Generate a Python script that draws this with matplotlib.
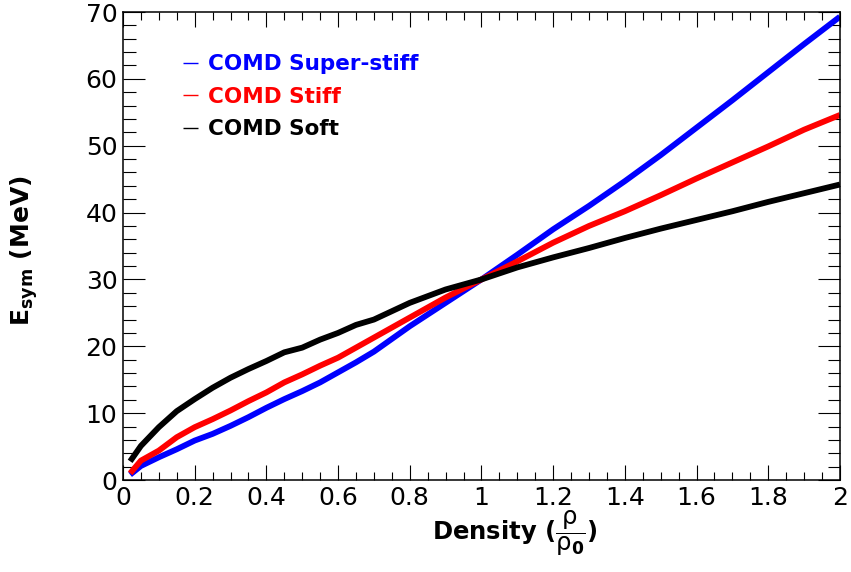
import matplotlib
matplotlib.use("Agg")
import matplotlib.pyplot as plt
from matplotlib.ticker import MultipleLocator, FuncFormatter

plt.rcParams['font.family'] = ['DejaVu Sans']
plt.rcParams['mathtext.fontset'] = 'dejavusans'

# Values (density in units of rho0, Esym in MeV)
density = [0.02, 0.05, 0.10, 0.15, 0.20, 0.25, 0.30, 0.35, 0.40, 0.45, 0.50, 0.55, 0.60, 0.65,
           0.70, 0.80, 0.90, 1.00, 1.10, 1.20, 1.30, 1.40, 1.50, 1.60, 1.70, 1.80, 1.90, 2.00]
super_stiff = [0.8, 2.1, 3.4, 4.6, 5.9, 6.9, 8.1, 9.4, 10.8, 12.1, 13.3, 14.6, 16.1, 17.6,
               19.2, 23.0, 26.5, 30.0, 33.7, 37.5, 41.0, 44.7, 48.6, 52.7, 56.8, 61.0, 65.2, 69.3]
stiff = [1.0, 2.9, 4.4, 6.4, 7.9, 9.1, 10.4, 11.8, 13.1, 14.6, 15.8, 17.1, 18.3, 19.8,
         21.3, 24.3, 27.3, 30.0, 32.7, 35.5, 38.0, 40.2, 42.6, 45.1, 47.5, 49.9, 52.4, 54.6]
soft = [2.8, 5.1, 7.9, 10.3, 12.1, 13.8, 15.3, 16.6, 17.8, 19.1, 19.8, 21.0, 22.0, 23.2,
        24.0, 26.5, 28.5, 30.0, 31.8, 33.3, 34.7, 36.2, 37.6, 38.9, 40.2, 41.6, 42.9, 44.2]

labels = ['COMD Super-stiff', 'COMD Stiff', 'COMD Soft']
colors = ['#0000ff', '#ff0000', '#000000']

fig = plt.figure(figsize=(8.51, 5.72), dpi=100)
ax = fig.add_axes([0.1445, 0.1608, 0.8425, 0.8182])

for ys, lab, c in zip([super_stiff, stiff, soft], labels, colors):
    ax.plot(density, ys, color=c, lw=4.2, label=lab, solid_capstyle='butt')

ax.set_xlim(0, 2)
ax.set_ylim(0, 70)

ax.xaxis.set_major_locator(MultipleLocator(0.2))
ax.xaxis.set_minor_locator(MultipleLocator(0.05))
ax.yaxis.set_major_locator(MultipleLocator(10))
ax.yaxis.set_minor_locator(MultipleLocator(2))
ax.xaxis.set_major_formatter(FuncFormatter(lambda v, p: '%g' % round(v, 2)))

ax.tick_params(which='both', direction='in', top=True, right=True, width=0.8, labelsize=18)
ax.tick_params(axis='x', which='major', length=10.8, pad=4)
ax.tick_params(axis='x', which='minor', length=5.8)
ax.tick_params(axis='y', which='major', length=16, pad=4)
ax.tick_params(axis='y', which='minor', length=9)
for s in ax.spines.values():
    s.set_linewidth(1.1)

fig.text(0.605, 0.056, r'Density ($\dfrac{\mathrm{\rho}}{\mathrm{\rho}_{\mathbf{0}}}$)', fontsize=17.5,
         fontweight='bold', ha='center', va='baseline')
fig.text(0.028, 0.561, r'E$_{\mathbf{sym}}$ (MeV)', fontsize=18, fontweight='bold',
         rotation=90, ha='center', va='center')

leg = ax.legend(loc='upper left', bbox_to_anchor=(0.0837, 0.91), frameon=False,
                handlelength=0.7, handletextpad=0.45, labelspacing=0.58,
                labelcolor='linecolor', prop={'weight': 'bold', 'size': 15.5},
                borderaxespad=0, borderpad=0)
for h in leg.legend_handles:
    h.set_linewidth(1.0)

fig.savefig('out.png', dpi=100)
